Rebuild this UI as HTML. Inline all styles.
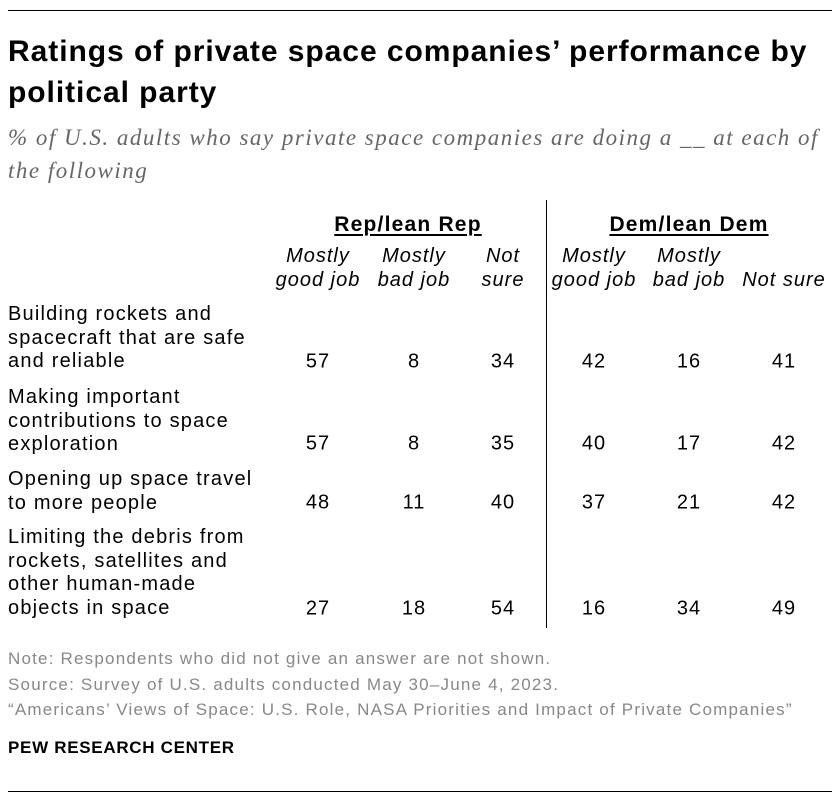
<!DOCTYPE html>
<html><head><meta charset="utf-8">
<style>
body{margin:0;background:#fff;}
#root{position:relative;width:840px;height:802px;overflow:hidden;font-family:"Liberation Sans",Arial,sans-serif;color:#000;}
.abs{position:absolute;white-space:nowrap;}
.rule{position:absolute;left:8px;width:824px;height:1px;background:#000;}
.title{left:8px;font-size:30px;font-weight:bold;line-height:41px;letter-spacing:0.95px;}
.sub{left:8px;font-family:"Liberation Serif",Georgia,serif;font-style:italic;color:#666;font-size:23px;line-height:33px;letter-spacing:1.5px;}
.grp{font-weight:bold;font-size:21px;letter-spacing:1.2px;text-decoration:underline;text-underline-offset:3px;transform:translateX(-50%);}
.col{font-style:italic;font-size:20px;letter-spacing:1px;line-height:24px;text-align:center;transform:translateX(-50%);}
.lbl{left:8px;font-size:20px;letter-spacing:1.2px;line-height:23.5px;}
.val{font-size:20px;letter-spacing:1px;transform:translate(-50%,-50%);}
.foot{left:8px;font-size:17px;color:#888;letter-spacing:1.2px;}
</style></head>
<body>
<div id="root">
<div class="rule" style="top:10px"></div>
<div class="abs title" style="top:31px">Ratings of private space companies’ performance by<br>political party</div>
<div class="abs sub" style="top:121px">% of U.S. adults who say private space companies are doing a __ at each of<br>the following</div>
<div class="abs grp" style="left:408px;top:213px">Rep/lean Rep</div>
<div class="abs grp" style="left:689px;top:213px">Dem/lean Dem</div>
<div class="abs" style="left:546px;top:200px;width:1px;height:428px;background:#000"></div>
<div class="abs foot" style="top:649px">Note: Respondents who did not give an answer are not shown.</div>
<div class="abs foot" style="top:675px">Source: Survey of U.S. adults conducted May 30–June 4, 2023.</div>
<div class="abs foot" style="top:700px">“Americans’ Views of Space: U.S. Role, NASA Priorities and Impact of Private Companies”</div>
<div class="abs" style="left:8px;top:738px;font-size:17px;font-weight:bold;letter-spacing:0.7px">PEW RESEARCH CENTER</div>
<div class="rule" style="top:791px"></div>
</div>
<script>
const columns=["Mostly<br>good job","Mostly<br>bad job","Not<br>sure","Mostly<br>good job","Mostly<br>bad job","Not sure"];
const categories=[
"Building rockets and<br>spacecraft that are safe<br>and reliable",
"Making important<br>contributions to space<br>exploration",
"Opening up space travel<br>to more people",
"Limiting the debris from<br>rockets, satellites and<br>other human-made<br>objects in space"];
const repGood=[57,57,48,27];
const repBad=[8,8,11,18];
const repNotSure=[34,35,40,54];
const demGood=[42,40,37,16];
const demBad=[16,17,21,34];
const demNotSure=[41,42,42,49];
const series=[repGood,repBad,repNotSure,demGood,demBad,demNotSure];
const colX=[318,414,503,594,689,784];
const labelTop=[303,386,468,526];
const valY=[362,444,503,609];
const root=document.getElementById('root');
columns.forEach((c,i)=>{
  const d=document.createElement('div');
  d.className='abs col';
  d.style.left=colX[i]+'px';d.style.top=(i===5?268:244)+'px';
  d.innerHTML=c;
  
  
  root.appendChild(d);
});
categories.forEach((c,r)=>{
  const d=document.createElement('div');
  d.className='abs lbl';d.style.top=labelTop[r]+'px';d.innerHTML=c;
  
  
  root.appendChild(d);
  series.forEach((s,i)=>{
    const v=document.createElement('div');
    v.className='abs val';v.style.left=colX[i]+'px';v.style.top=valY[r]+'px';
    v.textContent=s[r];
    
    
    root.appendChild(v);
  });
});
</script>
</body></html>
